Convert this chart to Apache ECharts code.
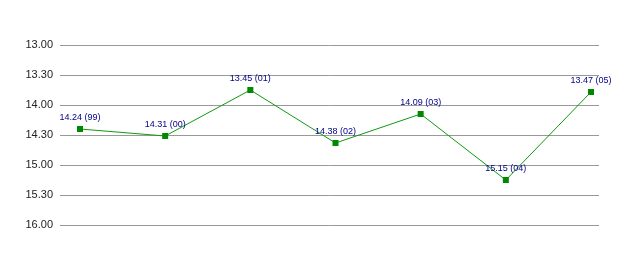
<!DOCTYPE html>
<html>
<head>
<meta charset="utf-8">
<script src="https://cdn.jsdelivr.net/npm/echarts@6/dist/echarts.min.js"></script>
<style>html,body{margin:0;padding:0;background:#fff}#c{width:638px;height:255px}</style>
</head>
<body>
<div id="c"></div>
<script>
// Data (times as min.sec)
var seasons = ['99', '00', '01', '02', '03', '04', '05'];
var times = ['14.24', '14.31', '13.45', '14.38', '14.09', '15.15', '13.47'];
var yTicks = ['13.00', '13.30', '14.00', '14.30', '15.00', '15.30', '16.00'];

function toMinutes(s) {
  var p = s.split('.');
  return parseInt(p[0], 10) + parseInt(p[1], 10) / 60;
}
function fmtTick(v) {
  var m = Math.floor(v + 1e-9);
  var sec = Math.round((v - m) * 60);
  return m + '.' + (sec < 10 ? '0' : '') + sec;
}

var data = times.map(function (t, i) { return [i, toMinutes(t)]; });

var chart = echarts.init(document.getElementById('c'), null, { renderer: 'canvas' });
chart.setOption({
  animation: false,
  backgroundColor: '#ffffff',
  grid: { left: 60, right: 39, top: 45, bottom: 30 },
  xAxis: {
    type: 'value',
    min: -0.235,
    max: 6.094,
    show: false
  },
  yAxis: {
    type: 'value',
    inverse: true,
    min: 13,
    max: 16,
    interval: 0.5,
    axisLine: { show: false },
    axisTick: { show: false },
    axisLabel: {
      margin: 7,
      color: '#222',
      fontFamily: 'Liberation Sans, Arial, sans-serif',
      fontSize: 11,
      formatter: function (v) { return fmtTick(v); }
    },
    splitLine: { show: true, lineStyle: { color: '#999999', width: 1 } }
  },
  series: [{
    type: 'line',
    data: data,
    symbol: 'rect',
    symbolSize: 6,
    itemStyle: { color: '#008800' },
    lineStyle: { color: '#119911', width: 1 },
    label: {
      show: true,
      position: 'top',
      distance: 4,
      color: '#000088',
      fontFamily: 'Liberation Sans, Arial, sans-serif',
      fontSize: 9,
      formatter: function (p) { return times[p.dataIndex] + ' (' + seasons[p.dataIndex] + ')'; }
    }
  }]
});
</script>
</body>
</html>
